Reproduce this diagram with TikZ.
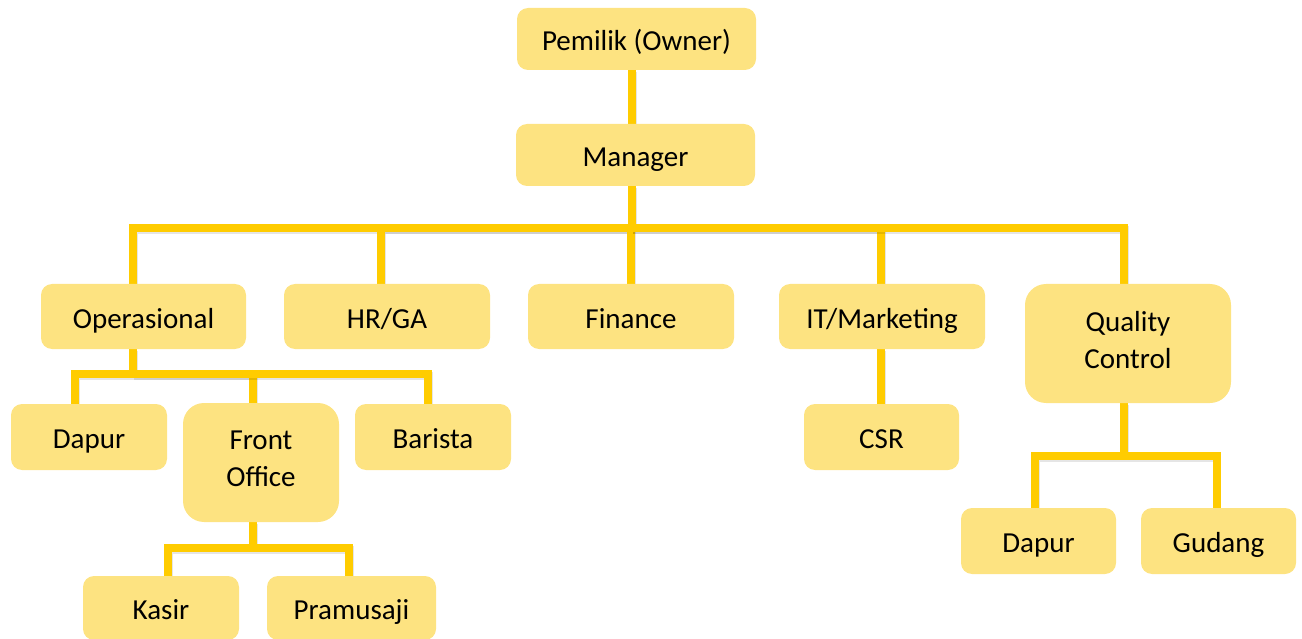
\documentclass[tikz,border=0pt]{standalone}
\usepackage{fontspec}
\setmainfont{Carlito}
\usetikzlibrary{backgrounds}
\definecolor{boxfill}{HTML}{FDE381}
\definecolor{linkline}{HTML}{FFCC00}
\begin{document}
\begin{tikzpicture}[x=1pt,y=-1pt,
  unit/.style={fill=boxfill, rounded corners=11pt, inner sep=0pt, align=center,
    text height=25pt, text depth=2pt,
    font=\fontsize{29}{37}\selectfont},
  tall/.style={rounded corners=21pt, text height=, text depth=8pt},
  link/.style={draw=linkline, line width=8pt, line cap=rect,
    preaction={draw=black, opacity=0.1, line width=8pt,
      transform canvas={shift={(0.5,2)}}}}]
\useasboundingbox (0,0) rectangle (1302,639);

% top of the chart
\node[unit, minimum width=239pt, minimum height=62pt] (own) at (636.5,39) {Pemilik (Owner)};
\node[unit, minimum width=239pt, minimum height=62pt] (mgr) at (635.5,155) {Manager};

% departments
\node[unit, minimum width=205pt, minimum height=65pt] (ops) at (143.5,316.5) {Operasional};
\node[unit, minimum width=206pt, minimum height=65pt] (hr)  at (387,316.5) {HR/GA};
\node[unit, minimum width=206pt, minimum height=65pt] (fin) at (631,316.5) {Finance};
\node[unit, minimum width=206pt, minimum height=65pt] (it)  at (882,316.5) {IT/Marketing};
\node[unit, tall, minimum width=206pt, minimum height=119pt] (qc) at (1128,343.5) {Quality\\Control};

% units under Operasional
\node[unit, minimum width=156pt, minimum height=66pt] (dap1) at (89,437) {Dapur};
\node[unit, tall, minimum width=156pt, minimum height=119pt] (fo) at (261,462.5) {Front\\Office};
\node[unit, minimum width=156pt, minimum height=66pt] (bar) at (433,437) {Barista};
\node[unit, minimum width=156pt, minimum height=64pt] (kas) at (161,608) {Kasir};
\node[unit, minimum width=169pt, minimum height=64pt] (pra) at (351.5,608) {Pramusaji};

% units under IT/Marketing and Quality Control
\node[unit, minimum width=155pt, minimum height=66pt] (csr)  at (881.5,437) {CSR};
\node[unit, minimum width=155pt, minimum height=66pt] (dap2) at (1038.5,541) {Dapur};
\node[unit, minimum width=155pt, minimum height=66pt] (gud)  at (1218.5,541) {Gudang};

% junction points of the buses
\coordinate (b1) at (632,228);
\coordinate (b2) at (133,374);
\coordinate (b3) at (253,548);
\coordinate (b4) at (1124,456);

\begin{scope}[on background layer]
  \draw[link] ([xshift=-4.5pt]own.south) -- ([xshift=-3.5pt]mgr.north);
  \draw[link] ([xshift=-3.5pt]mgr.south) -- (b1);
  \draw[link] ([xshift=-10.5pt]ops.north) |- (b1);
  \draw[link] ([xshift=-6pt]hr.north) |- (b1);
  \draw[link] (fin.north) |- (b1);
  \draw[link] ([xshift=-1pt]it.north) |- (b1);
  \draw[link] ([xshift=-4pt]qc.north) |- (b1);

  \draw[link] ([xshift=-10.5pt]ops.south) -- (b2);
  \draw[link] ([xshift=-14pt]dap1.north) |- (b2);
  \draw[link] ([xshift=-8pt]fo.north) |- (b2);
  \draw[link] ([xshift=-5pt]bar.north) |- (b2);

  \draw[link] ([xshift=-8pt]fo.south) -- (b3);
  \draw[link] ([xshift=7pt]kas.north) |- (b3);
  \draw[link] ([xshift=-2.5pt]pra.north) |- (b3);

  \draw[link] ([xshift=-1pt]it.south) -- ([xshift=-0.5pt]csr.north);

  \draw[link] ([xshift=-4pt]qc.south) -- (b4);
  \draw[link] ([xshift=-3.5pt]dap2.north) |- (b4);
  \draw[link] ([xshift=-2pt]gud.north) |- (b4);
\end{scope}
\end{tikzpicture}
\end{document}
